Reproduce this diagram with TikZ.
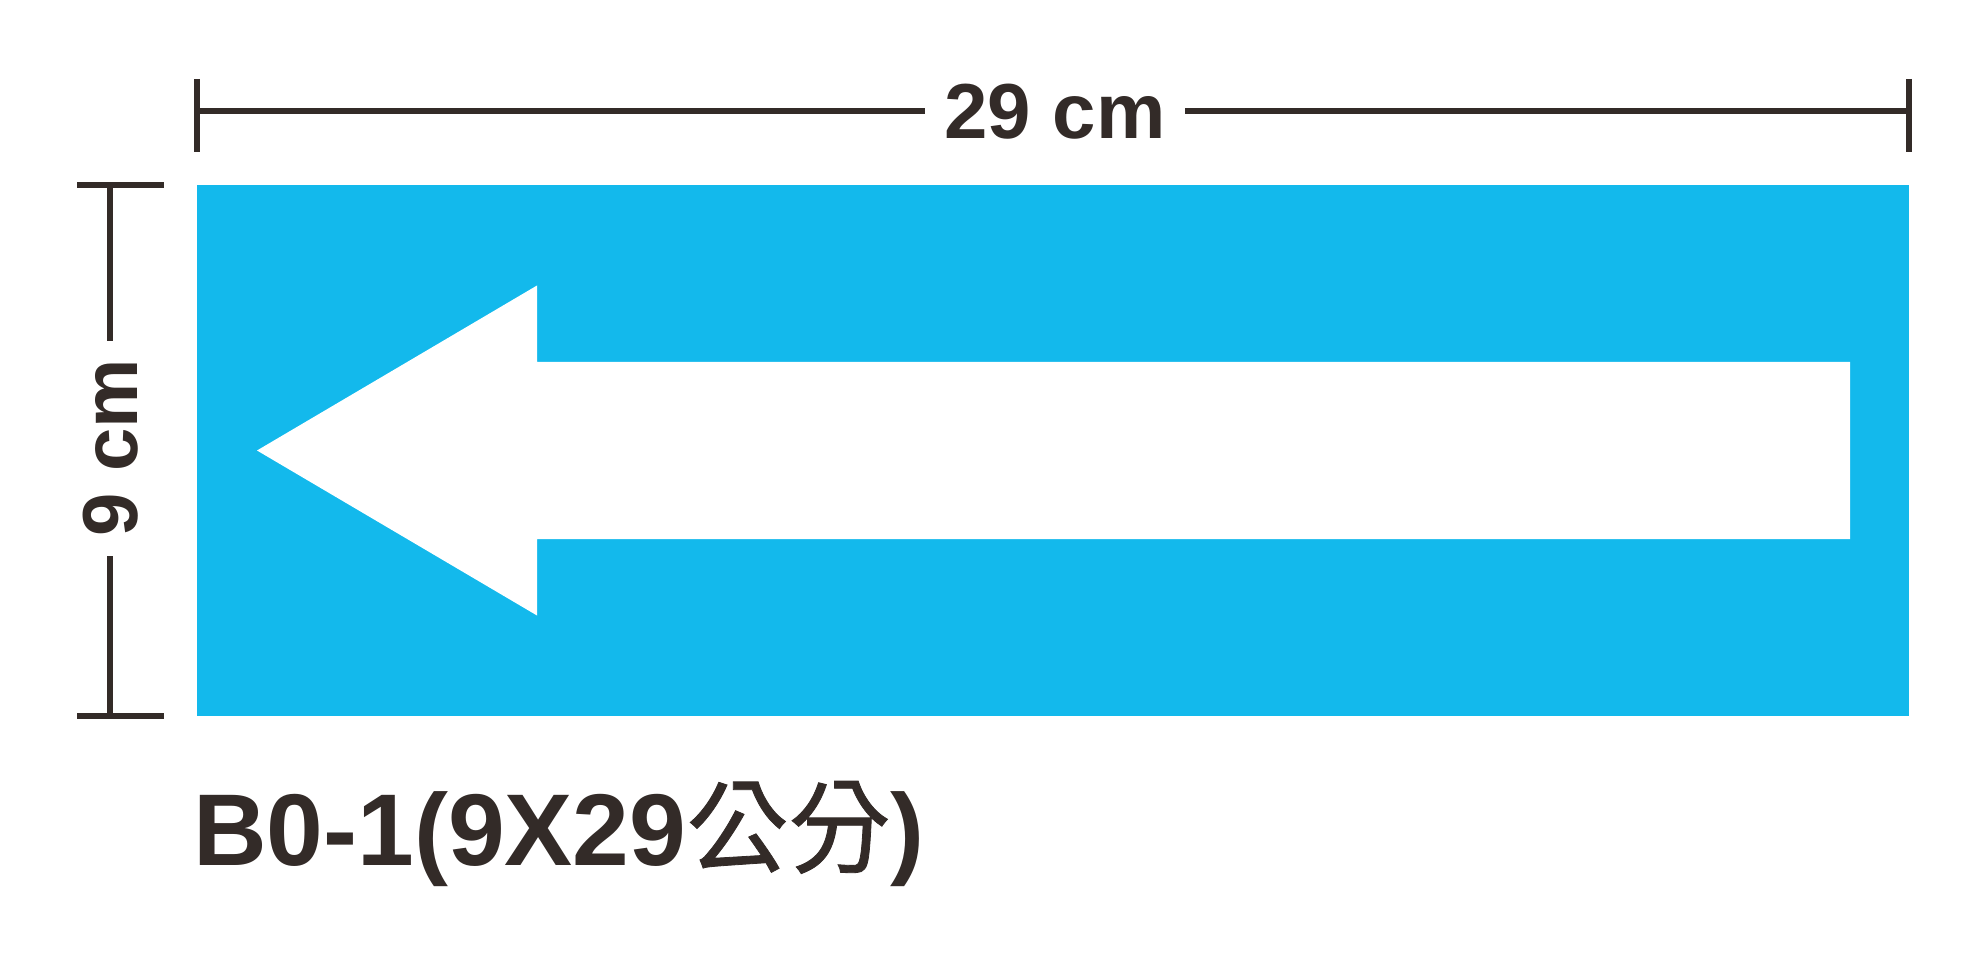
\documentclass[tikz,border=0pt]{standalone}
\usepackage{fontspec}
\setmainfont{Liberation Sans}
\newfontfamily\cjkfont[FakeBold=0.8]{Noto Sans CJK TC}
\definecolor{signblue}{RGB}{19,185,236}
\definecolor{ink}{RGB}{51,43,40}
\begin{document}
\begin{tikzpicture}[x=1pt,y=-1pt,
  dimline/.style={draw=ink,line width=6pt},
  dimlabel/.style={text=ink,font=\fontsize{78}{78}\selectfont\bfseries,inner sep=0pt},
  caption/.style={text=ink,font=\fontsize{102}{102}\selectfont\bfseries,inner sep=0pt,anchor=base west}]
\useasboundingbox (0,0) rectangle (1987,965);
% sign
\fill[signblue] (197,185) rectangle (1909,716);
\fill[white] (257,450.5) -- (537,285.5) -- (537,362) -- (1850,362) -- (1850,539) -- (537,539) -- (537,615.5) -- cycle;
% top dimension
\coordinate (tl) at (197,111);
\coordinate (tr) at (1909,111);
\node[dimlabel] (w) at (1055,112) {29 cm};
\draw[dimline] (197,79) -- (197,152);
\draw[dimline] (1909,79) -- (1909,152);
\draw[dimline] (tl) -- (925,111);
\draw[dimline] (1185,111) -- (tr);
% left dimension
\coordinate (lt) at (110,185);
\coordinate (lb) at (110,716);
\node[dimlabel,rotate=90] (h) at (111,448) {9 cm};
\draw[dimline] (77,185) -- (164,185);
\draw[dimline] (77,716) -- (164,716);
\draw[dimline] (lt) -- (110,341);
\draw[dimline] (110,556) -- (lb);
% caption
\node[caption] (cap) at (193,865) {B0-1(9X29{\cjkfont\mdseries 公分})};
\end{tikzpicture}
\end{document}
